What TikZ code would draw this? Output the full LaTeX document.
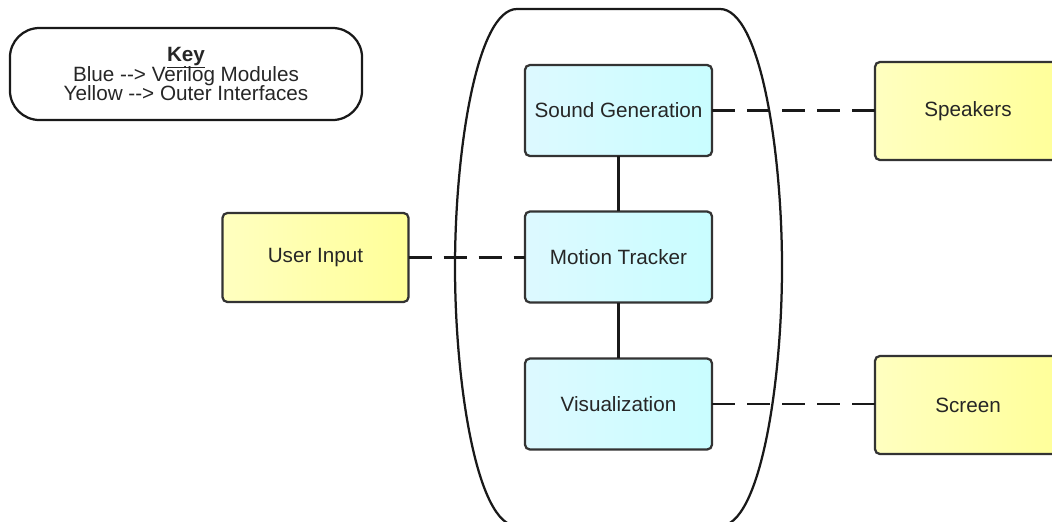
\documentclass[tikz,border=0pt]{standalone}
\usepackage{fontspec}
\setmainfont{Liberation Sans}
\usetikzlibrary{positioning}
\definecolor{cyanlt}{HTML}{DDF9FF}
\definecolor{cyandk}{HTML}{C9FDFF}
\definecolor{yellt}{HTML}{FFFFC0}
\definecolor{yeldk}{HTML}{FFFF99}
\definecolor{edge}{HTML}{333333}

\begin{document}
\begin{tikzpicture}[x=0.025cm, y=-0.025cm, line width=1.6pt,
    every node/.style={font=\fontsize{14.7}{14}\selectfont, text=black!85, inner sep=0pt, outer sep=0pt},
    module/.style={draw=edge, rounded corners=3.5pt, minimum width=4.675cm, minimum height=2.275cm, left color=cyanlt, right color=cyandk},
    iface/.style={draw=edge, rounded corners=3.5pt, minimum width=4.65cm, minimum height=2.45cm, left color=yellt, right color=yeldk},
    link/.style={draw=black!90, dash pattern=on 16.4pt off 8.5pt}]
    \useasboundingbox (0,0) rectangle (1052,521);
    \fill[white] (0,0) rectangle (1052,521);
    \clip (0,0) rectangle (1052,521);
    \draw[black!90] (517,9) -- (720,9) .. controls (760,9) and (782,150) .. (782,267)
        .. controls (782,384) and (760,526) .. (720,526) -- (517,526)
        .. controls (477,526) and (455,384) .. (455,267)
        .. controls (455,150) and (477,9) .. (517,9) -- cycle;
    \node[draw=black!90, rounded corners=21pt, minimum width=8.8cm, minimum height=2.3cm, align=center] (key) at (186,74)
        {\underline{\textbf{Key}}\\[-2.5pt]Blue -{}-> Verilog Modules\\Yellow -{}-> Outer Interfaces};
    \node[module] (sound) at (618.5,110.5) {Sound Generation};
    \node[module] (motion) at (618.5,257) {Motion Tracker};
    \node[module] (visual) at (618.5,404) {Visualization};
    \node[iface, minimum height=2.225cm] (user) at (315.5,257.5) {User Input};
    \node[iface] (speakers) at (968,111) {Speakers};
    \node[iface] (screen) at (968,405) {Screen};
    \draw[black!90] (sound) -- (motion);
    \draw[black!90] (motion) -- (visual);
    \draw[link] (sound.east) -- (sound.east -| speakers.west);
    \draw[link] (user.east) -- (user.east -| motion.west);
    \draw[link] (visual.east) -- (visual.east -| screen.west);
\end{tikzpicture}
\end{document}
